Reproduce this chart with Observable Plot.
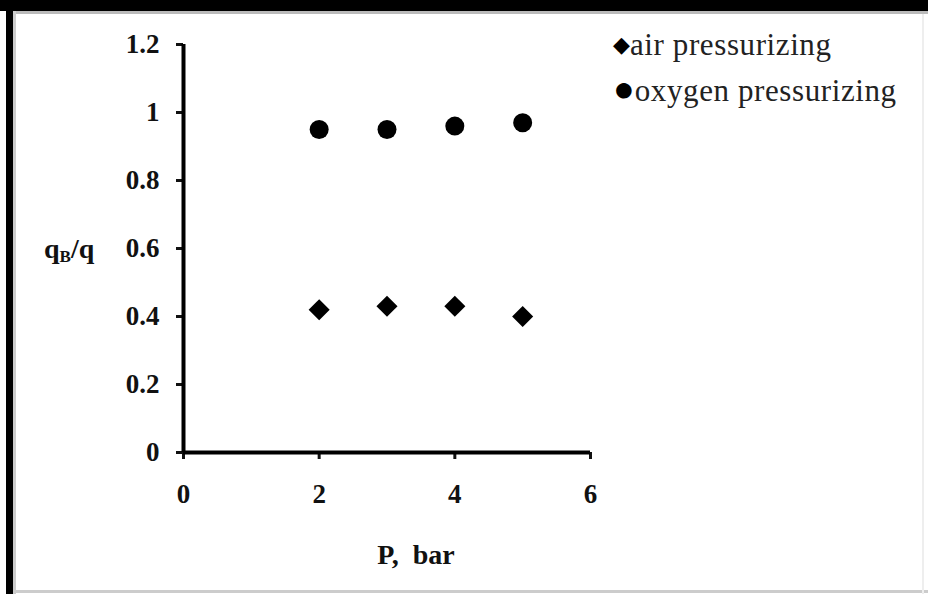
<!DOCTYPE html>
<html>
<head>
<meta charset="utf-8">
<script src="https://cdn.jsdelivr.net/npm/d3@7"></script>
<script src="https://cdn.jsdelivr.net/npm/@observablehq/plot@0.6"></script>
<style>
  html, body { margin: 0; padding: 0; background: #fff; }
  #wrap { position: relative; width: 928px; height: 594px; overflow: hidden; font-family: "Liberation Serif", "Times New Roman", serif; }
  .frame { position: absolute; }
  #ylab { position: absolute; left: 44px; top: 234px; font-weight: bold; font-size: 28px; line-height: 30px; color: #111; }
  #ylab sub { font-size: 17px; vertical-align: -4px; }
  #legend { position: absolute; left: 613px; top: 22px; font-size: 31px; letter-spacing: 0.6px; color: #222; line-height: 45px; white-space: nowrap; }
  #legend .d { color: #000; font-size: 22px; vertical-align: 3px; letter-spacing: 0; }
  #legend .c { color: #000; font-size: 36px; letter-spacing: 0; }
</style>
</head>
<body>
<div id="wrap">
  <div id="chart"></div>
  <div class="frame" style="left:0;top:0;width:928px;height:11px;background:#000"></div>
  <div class="frame" style="left:6px;top:0;width:7px;height:594px;background:#000"></div>
  <div class="frame" style="left:13px;top:11px;width:915px;height:3px;background:#bbb"></div>
  <div class="frame" style="left:13px;top:11px;width:3px;height:583px;background:#ccc"></div>
  <div class="frame" style="left:13px;top:590px;width:915px;height:3px;background:#ccc"></div>
  <div class="frame" style="left:922px;top:14px;width:2px;height:580px;background:#eee"></div>
  <div id="ylab">q<sub>B</sub>/q</div>
  <div id="legend">
    <div><span class="d">&#9670;</span>air pressurizing</div>
    <div><span class="c">&#9679;</span>oxygen pressurizing</div>
  </div>
</div>
<script>
const pressure = [2, 3, 4, 5];
const airValues = [0.42, 0.43, 0.43, 0.40];
const oxygenValues = [0.95, 0.95, 0.96, 0.97];
const xTicks = [0, 2, 4, 6];
const yTicks = [0, 0.2, 0.4, 0.6, 0.8, 1, 1.2];
const xLabel = "P,\u00a0 bar";

const air = pressure.map((p, i) => ({p, v: airValues[i]}));
const oxy = pressure.map((p, i) => ({p, v: oxygenValues[i]}));

const chart = Plot.plot({
  width: 928,
  height: 594,
  marginLeft: 183,
  marginRight: 338,
  marginTop: 44,
  marginBottom: 142,
  style: {fontFamily: "'Liberation Serif', 'Times New Roman', serif", background: "transparent", color: "#111", fontSize: "27px"},
  x: {domain: [0, 6], ticks: xTicks},
  y: {domain: [0, 1.2], ticks: yTicks},
  marks: [
    Plot.axisY({ticks: yTicks, tickSize: 7, tickPadding: 17, strokeWidth: 3, fontSize: 27, fontWeight: "bold", label: null, tickFormat: d => String(d)}),
    Plot.axisX({ticks: xTicks, tickSize: 7, tickPadding: 24, strokeWidth: 3, fontSize: 27, fontWeight: "bold", label: null, tickFormat: d => String(d)}),
    Plot.text([xLabel], {frameAnchor: "bottom", dx: 29, dy: 103, lineAnchor: "middle", fontSize: 28, fontWeight: "bold", fill: "#111"}),
    Plot.ruleX([0], {stroke: "#000", strokeWidth: 4}),
    Plot.ruleY([0], {stroke: "#000", strokeWidth: 4}),
    Plot.dot(oxy, {x: "p", y: "v", r: 9.5, fill: "#000", stroke: null}),
    Plot.dot(air, {x: "p", y: "v", symbol: "diamond2", r: 9.5, fill: "#000", stroke: null})
  ]
});
document.getElementById("chart").appendChild(chart);
</script>
</body>
</html>
